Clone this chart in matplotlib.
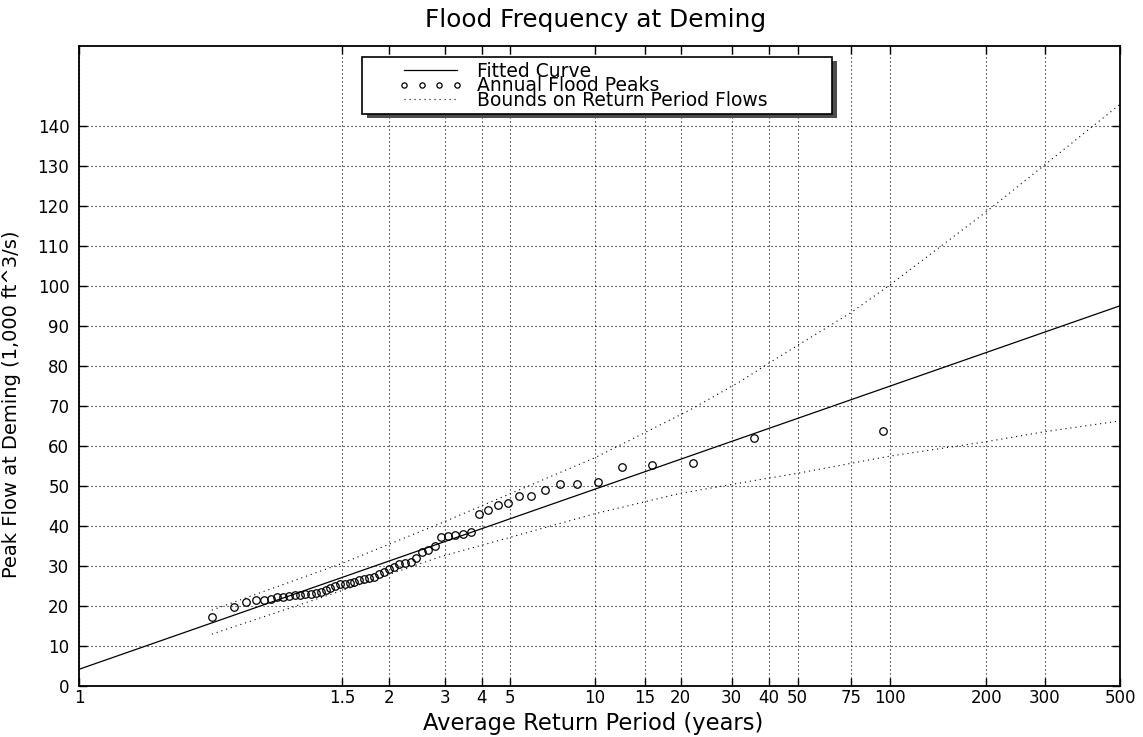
import numpy as np
import matplotlib
matplotlib.use("Agg")
import matplotlib.pyplot as plt
from matplotlib.patches import Rectangle
from matplotlib.lines import Line2D
from matplotlib.legend_handler import HandlerLine2D
from matplotlib.ticker import FixedLocator, FixedFormatter, NullLocator

plt.rcParams['font.family'] = ['DejaVu Sans']

# ---------------- data ----------------
peak_return_period = [1.0137, 1.0350, 1.0537, 1.0733, 1.0937, 1.1135, 1.1338,
                      1.1532, 1.1770, 1.2017, 1.2275, 1.2544, 1.2825, 1.3119,
                      1.3427, 1.3750, 1.4089, 1.4444, 1.4819, 1.5213, 1.5628,
                      1.6067, 1.6532, 1.7024, 1.7546, 1.8101, 1.8693, 1.9324,
                      2.0000, 2.0725, 2.1504, 2.2344, 2.3252, 2.4237, 2.5310,
                      2.6481, 2.7767, 2.9184, 3.0753, 3.2500, 3.4458, 3.6667,
                      3.9178, 4.2059, 4.5397, 4.9310, 5.3962, 5.9583, 6.6512,
                      7.5263, 8.6667, 10.214, 12.435, 15.889, 22.0, 35.75, 95.33]
peak_flow = [17.1, 19.7, 21.0, 21.3, 21.4, 21.6, 22.1,
             22.25, 22.35, 22.6, 22.75, 22.9, 23.0, 23.1,
             23.4, 23.9, 24.4, 24.9, 25.3, 25.5, 25.7,
             25.9, 26.4, 26.7, 26.8, 27.1, 28.0, 28.5,
             29.1, 29.7, 30.3, 30.7, 30.8, 32.0, 33.4,
             34.0, 34.8, 37.2, 37.35, 37.6, 37.85, 38.5,
             42.85, 43.9, 45.2, 45.75, 47.35, 47.4, 48.9,
             50.35, 50.4, 51.0, 54.75, 55.25, 55.75, 61.9, 63.7]

fit_return_period = [1, 500]
fit_flow = [4.1, 95.0]

upper_return_period = [1.0137, 1.5, 2.9, 10, 21.5, 32, 40, 75, 100, 200, 300, 500]
upper_flow = [18.9, 30.6, 40.6, 57.0, 68.9, 76.0, 80.6, 93.3, 100.2, 118.5, 130.2, 145.4]

lower_return_period = [1.0137, 1.5, 2.9, 10, 20, 36.5, 50, 100, 200, 300, 500]
lower_flow = [12.9, 23.8, 32.25, 43.0, 48.1, 51.4, 53.1, 57.4, 61.0, 63.5, 66.2]

x_ticks = [1, 1.5, 2, 3, 4, 5, 10, 15, 20, 30, 40, 50, 75, 100, 200, 300, 500]
x_tick_labels = ['1', '1.5', '2', '3', '4', '5', '10', '15', '20', '30', '40',
                 '50', '75', '100', '200', '300', '500']
y_ticks = [0, 10, 20, 30, 40, 50, 60, 70, 80, 90, 100, 110, 120, 130, 140]

title = 'Flood Frequency at Deming'
x_label = 'Average Return Period (years)'
y_label = 'Peak Flow at Deming (1,000 ft^3/s)'
legend_labels = ['Fitted Curve', 'Annual Flood Peaks', 'Bounds on Return Period Flows']

# ---------------- probability-paper scale (GEV reduced variate) ----------------
GEV_C = 0.065      # -k of the GEV paper
Y_FLOOR = -2.988   # reduced variate at the left edge (labelled "1")


def forward(T):
    T = np.asarray(T, dtype=float)
    with np.errstate(divide='ignore', invalid='ignore'):
        p = 1.0 - 1.0 / T
    p = np.nan_to_num(p, nan=1e-300, neginf=1e-300, posinf=1 - 1e-15)
    p = np.clip(p, 1e-300, 1 - 1e-15)
    y = -np.log(-np.log(p))
    y = np.maximum(y, Y_FLOOR)
    return np.expm1(GEV_C * y) / GEV_C


def inverse(x):
    x = np.asarray(x, dtype=float)
    arg = np.maximum(1 + GEV_C * x, 1e-12)
    y = np.log(arg) / GEV_C
    q = -np.expm1(-np.exp(-y))
    with np.errstate(divide='ignore'):
        return 1.0 / np.maximum(q, 1e-300)


# ---------------- figure ----------------
fig = plt.figure(figsize=(11.43, 7.37), dpi=100)
ax = fig.add_axes([0.06912, 0.06961, 0.91102, 0.86838])
ax.set_xscale('function', functions=(forward, inverse))
ax.set_xlim(1, 500)
ax.set_ylim(0, 160)

h_fit, = ax.plot(fit_return_period, fit_flow, color='black', lw=0.9,
                 label=legend_labels[0], zorder=3)
h_pk, = ax.plot(peak_return_period, peak_flow, ls='none', marker='o', ms=5.4,
                mfc='none', mec='black', mew=0.9, label=legend_labels[1], zorder=3)
dot = (0, (1, 3.5))
h_up, = ax.plot(upper_return_period, upper_flow, color='black', lw=0.8, ls=dot,
                label=legend_labels[2], zorder=3)
ax.plot(lower_return_period, lower_flow, color='black', lw=0.8, ls=dot, zorder=3)

ax.xaxis.set_major_locator(FixedLocator(x_ticks))
ax.xaxis.set_major_formatter(FixedFormatter(x_tick_labels))
ax.xaxis.set_minor_locator(NullLocator())
ax.yaxis.set_major_locator(FixedLocator(y_ticks))
ax.yaxis.set_minor_locator(NullLocator())

ax.grid(True, which='major', color='black', linestyle=(0, (1, 2.6)), linewidth=0.8)
ax.tick_params(axis='both', which='major', direction='in', top=True, right=True,
               length=6, width=1.0, labelsize=12, colors='black')
ax.tick_params(axis='x', pad=2.6)
ax.tick_params(axis='y', pad=7)
for s in ax.spines.values():
    s.set_linewidth(1.3)
    s.set_color('black')

ax.set_title(title, fontsize=17.8, x=0.4964, y=1.0297, pad=0)
ax.set_xlabel(x_label, fontsize=16.3)
ax.xaxis.set_label_coords(0.4941, -0.0408)
ax.set_ylabel(y_label, fontsize=14)
ax.yaxis.set_label_coords(-0.0555, 0.44)

handler = HandlerLine2D(numpoints=4, marker_pad=0.0, xpad=2.0)
leg = ax.legend(handles=[h_fit, h_pk, h_up], loc='upper left',
                bbox_to_anchor=(0.2715, 0.5, 0.4514, 0.4819), mode='expand',
                borderaxespad=0, fontsize=13.5, labelspacing=-0.25, borderpad=0.25,
                handlelength=4.83, handletextpad=1.07, markerscale=0.7,
                fancybox=False, shadow=False, framealpha=1, edgecolor='black',
                handler_map={Line2D: handler})
leg.get_frame().set_linewidth(1.2)
leg.set_zorder(6)

# drop shadow of the legend box
fig.canvas.draw()
bb = leg.get_frame().get_window_extent()
inv = ax.transAxes.inverted()
sx0, sy0 = inv.transform((bb.x0 + 5, bb.y0 - 4))
sx1, sy1 = inv.transform((bb.x1 + 5, bb.y1 - 4))
ax.add_patch(Rectangle((sx0, sy0), sx1 - sx0, sy1 - sy0, transform=ax.transAxes,
                       facecolor='#4d4d4d', edgecolor='none', zorder=5.9,
                       clip_on=False))

fig.savefig('out.png', dpi=100)
